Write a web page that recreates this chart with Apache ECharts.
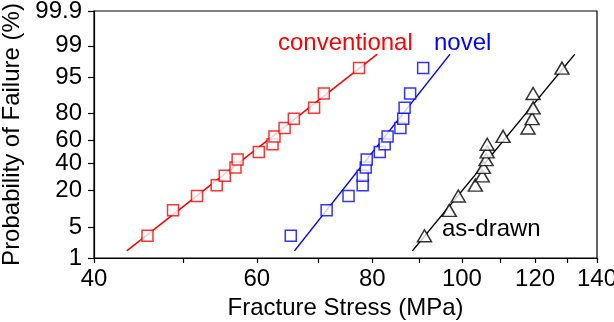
<!DOCTYPE html>
<html>
<head>
<meta charset="utf-8">
<script src="https://cdn.jsdelivr.net/npm/echarts@6/dist/echarts.min.js"></script>
<style>
  html, body { margin: 0; padding: 0; background: #fff; }
  #chart { width: 614px; height: 322px; }
</style>
</head>
<body>
<div id="chart"></div>
<script>
// fracture stress (MPa) and failure probability (%)
var convStress  = [45.7, 48.7, 51.7, 54.3, 55.4, 56.9, 57.2, 60.3, 62.4, 62.7, 64.3, 65.8, 69.2, 70.9, 77.4];
var novelStress = [65.3, 71.4, 75.4, 78.1, 78.1, 78.7, 78.9, 81.5, 82.5, 83.1, 85.8, 86.4, 86.7, 87.9, 90.8];
var drawnStress = [91.1, 96.9, 99.1, 103.4, 105.2, 105.5, 106.2, 106.5, 106.5, 110.8, 117.9, 119.1, 119.4, 119.4, 128.3];
var rankProb    = [3.3, 10, 16.7, 23.3, 30, 36.7, 43.3, 50, 56.7, 63.3, 70, 76.7, 83.3, 90, 96.7];

// fitted lines: end points
var convFitStress  = [43.4, 81.0];
var novelFitStress = [65.9, 97.1];
var drawnFitStress = [88.4, 132.5];
var fitProb        = [1.5, 98.4];

// axis ticks
var xTicks  = [40, 50, 60, 70, 80, 90, 100, 110, 120, 130, 140];
var xLabels = [40, 60, 80, 100, 120, 140];
var yTicks  = [1, 5, 20, 40, 60, 80, 95, 99, 99.9];

// inverse normal CDF (Acklam)
function probit(p) {
    var a = [-39.69683028665376, 220.9460984245205, -275.9285104469687, 138.3577518672690, -30.66479806614716, 2.506628277459239];
    var b = [-54.47609879822406, 161.5858368580409, -155.6989798598866, 66.80131188771972, -13.28068155288572];
    var c = [-0.007784894002430293, -0.3223964580411365, -2.400758277161838, -2.549732539343734, 4.374664141464968, 2.938163982698783];
    var d = [0.007784695709041462, 0.3224671290700398, 2.445134137142996, 3.754408661907416];
    var pl = 0.02425, q, r;
    if (p < pl) {
        q = Math.sqrt(-2 * Math.log(p));
        return (((((c[0]*q+c[1])*q+c[2])*q+c[3])*q+c[4])*q+c[5]) / ((((d[0]*q+d[1])*q+d[2])*q+d[3])*q+1);
    } else if (p <= 1 - pl) {
        q = p - 0.5; r = q * q;
        return (((((a[0]*r+a[1])*r+a[2])*r+a[3])*r+a[4])*r+a[5])*q / (((((b[0]*r+b[1])*r+b[2])*r+b[3])*r+b[4])*r+1);
    } else {
        q = Math.sqrt(-2 * Math.log(1 - p));
        return -(((((c[0]*q+c[1])*q+c[2])*q+c[3])*q+c[4])*q+c[5]) / ((((d[0]*q+d[1])*q+d[2])*q+d[3])*q+1);
    }
}
function tx(s) { return Math.log(s); }
function ty(pct) { return probit(pct / 100); }
function pts(xs, ys) {
    return xs.map(function (x, i) { return [tx(x), ty(ys[i])]; });
}

var FONT = 'Liberation Sans, Arial, sans-serif';
var FS = 24;

var chart = echarts.init(document.getElementById('chart'), null, { renderer: 'canvas' });

var option = {
    animation: false,
    backgroundColor: '#fff',
    grid: { left: 94, right: 17, top: 11, bottom: 64, outerBoundsMode: 'none',
            show: true, borderColor: '#000', borderWidth: 1.2 },
    xAxis: {
        type: 'value',
        min: tx(40), max: tx(140),
        name: 'Fracture Stress (MPa)',
        nameLocation: 'middle',
        nameGap: 33,
        nameTextStyle: { color: '#000', fontSize: FS, fontFamily: FONT },
        axisLine: { onZero: false, lineStyle: { color: '#000', width: 1.2 } },
        axisTick: { show: true, length: 5, lineStyle: { color: '#000', width: 1.2 }, customValues: xTicks.map(tx) },
        axisLabel: {
            color: '#000', fontSize: FS, fontFamily: FONT, margin: 9,
            customValues: xLabels.map(tx),
            formatter: function (v) { return String(Math.round(Math.exp(v))); }
        },
        splitLine: { show: false }
    },
    yAxis: {
        type: 'value',
        min: ty(1), max: ty(99.9),
        name: 'Probability of Failure (%)',
        nameLocation: 'middle',
        nameGap: 57,
        nameTextStyle: { color: '#000', fontSize: FS, fontFamily: FONT },
        axisLine: { onZero: false, lineStyle: { color: '#000', width: 1.2 } },
        axisTick: { show: true, length: 6, lineStyle: { color: '#000', width: 1.2 }, customValues: yTicks.map(ty) },
        axisLabel: {
            color: '#000', fontSize: FS, fontFamily: FONT, margin: 12,
            customValues: yTicks.map(ty),
            formatter: function (v) {
                var best = yTicks[0];
                yTicks.forEach(function (t) { if (Math.abs(ty(t) - v) < Math.abs(ty(best) - v)) best = t; });
                return String(best);
            }
        },
        splitLine: { show: false }
    },
    graphic: [
        { type: 'text', style: { text: 'conventional', x: 278, y: 43, fill: '#ff0000', font: FS + 'px ' + FONT, verticalAlign: 'middle' } },
        { type: 'text', style: { text: 'novel', x: 434, y: 43, fill: '#0000ff', font: FS + 'px ' + FONT, verticalAlign: 'middle' } },
        { type: 'text', style: { text: 'as-drawn', x: 442, y: 229, fill: '#000', font: FS + 'px ' + FONT, verticalAlign: 'middle' } }
    ],
    series: [
        { type: 'line', data: pts(convFitStress, fitProb), showSymbol: false, lineStyle: { color: '#ff0000', width: 1.5 }, z: 1 },
        { type: 'line', data: pts(novelFitStress, fitProb), showSymbol: false, lineStyle: { color: '#0000ff', width: 1.5 }, z: 1 },
        { type: 'line', data: pts(drawnFitStress, fitProb), showSymbol: false, lineStyle: { color: '#000', width: 1.5 }, z: 1 },
        { type: 'scatter', data: pts(convStress, rankProb), symbol: 'rect', symbolSize: 11,
          itemStyle: { color: '#fff', borderColor: '#ff0000', borderWidth: 1.5 }, z: 2 },
        { type: 'scatter', data: pts(novelStress, rankProb), symbol: 'rect', symbolSize: 11,
          itemStyle: { color: '#fff', borderColor: '#0000ff', borderWidth: 1.5 }, z: 2 },
        { type: 'scatter', data: pts(drawnStress, rankProb), symbol: 'triangle', symbolSize: [14, 12],
          itemStyle: { color: '#fff', borderColor: '#000', borderWidth: 1.5 }, z: 2 }
    ]
};

chart.setOption(option);
window.addEventListener('resize', chart.resize);
</script>
</body>
</html>
